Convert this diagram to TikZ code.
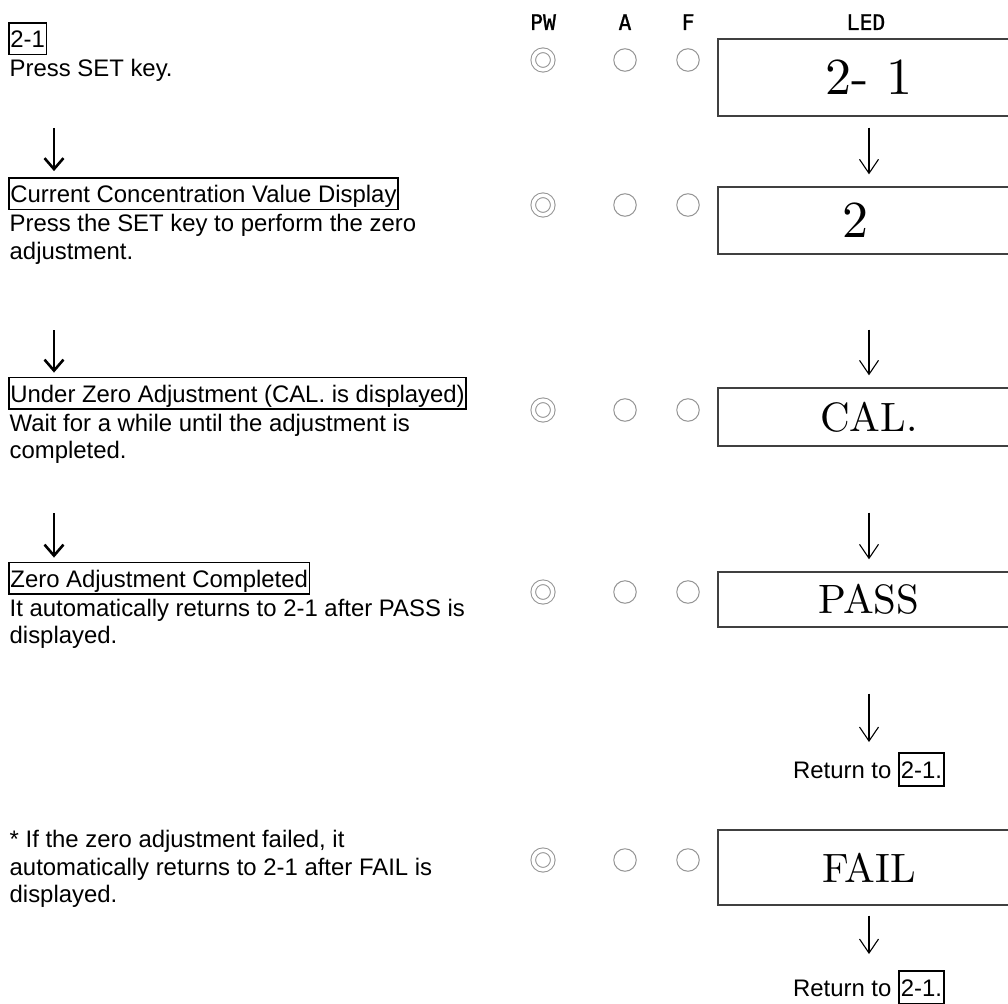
\documentclass[tikz,border=0pt]{standalone}
\usepackage{fontspec}
\newfontfamily\arialfont{Liberation Sans}
\newfontfamily\gothicfont[FakeBold=1]{DejaVu Sans Mono}
\newfontfamily\lcdfont{lmroman10-regular.otf}
\usetikzlibrary{arrows.meta,positioning}
\newcommand{\retbox}[1]{{\setlength{\fboxsep}{1pt}\setlength{\fboxrule}{1.8pt}\fbox{\rule[-6pt]{0pt}{29pt}#1}}}

\begin{document}
\begin{tikzpicture}[
    x=1pt, y=-1pt,
    font=\arialfont\fontsize{23.9}{27.5}\selectfont,
    title/.style={draw, line width=1.8pt, anchor=base west, inner xsep=1.5pt, inner ysep=1.5pt, text height=23pt, text depth=5.5pt},
    desc/.style={align=left, inner xsep=1.5pt, inner ysep=0pt},
    head/.style={font=\gothicfont\fontsize{21.5}{23}\selectfont, anchor=base},
    ledoff/.style={circle, draw=gray!85, line width=1pt, minimum size=22.5pt, inner sep=0pt},
    ledon/.style={circle, draw=gray!85, line width=1pt, double=white, double distance=3.6pt, minimum size=19.5pt, inner sep=0pt},
    lcd/.style={draw=black!75, line width=1.4pt, minimum width=302pt, inner sep=0pt, font=\lcdfont\fontsize{41}{45}\selectfont},
    lcdnum/.style={lcd, font=\lcdfont\fontsize{52}{56}\selectfont},
    steparr/.style={line width=2.6pt, -{Straight Barb[length=11pt, width=19pt]}},
    lcdarr/.style={line width=1.1pt, -{Straight Barb[length=14pt, width=19pt]}},
    ret/.style={anchor=base, inner sep=0pt}
]
\useasboundingbox (0,0) rectangle (1008,1003);
\clip (0,0) rectangle (1008,1003);

% Left column: steps
\node[title] (t1) at (8,47.5) {2-1};
\node[desc, below=4pt of t1.south west, anchor=north west] (d1) {Press SET key.};

\node[title] (t2) at (8,202.5) {Current Concentration Value Display};
\node[desc, below=4pt of t2.south west, anchor=north west] (d2) {Press the SET key to perform the zero\\adjustment.};

\node[title] (t3) at (8,402) {Under Zero Adjustment (CAL. is displayed)};
\node[desc, below=4pt of t3.south west, anchor=north west] (d3) {Wait for a while until the adjustment is\\completed.};

\node[title] (t4) at (8,587) {Zero Adjustment Completed};
\node[desc, below=4pt of t4.south west, anchor=north west] (d4) {It automatically returns to 2-1 after PASS is\\displayed.};

\node[desc, anchor=north west] (note) at (8,830) {* If the zero adjustment failed, it\\automatically returns to 2-1 after FAIL is\\displayed.};

% Left arrows
\coordinate (s1) at (54,128);
\coordinate (s2) at (54,330);
\coordinate (s3) at (54,513);
\draw[steparr, shorten >=6pt] (s1) -- (s1 |- t2.north);
\draw[steparr, shorten >=4pt] (s2) -- (s2 |- t3.north);
\draw[steparr, shorten >=4pt] (s3) -- (s3 |- t4.north);

% Headers
\node[head] (hpw) at (543,30) {PW};
\node[head] (ha) at (625,30) {A};
\node[head] (hf) at (688,30) {F};
\node[head] (hled) at (866,30) {LED};

% Lamps
\foreach \r/\y in {1/60, 2/205, 3/410, 4/592, 5/860} {
    \node[ledon] (pw\r) at (543,\y) {};
    \node[ledoff] (a\r) at (625,\y) {};
    \node[ledoff] (f\r) at (688,\y) {};
}

% LED display
\node[lcdnum, minimum height=77pt] (lcd1) at (869,77.5) {2- 1};
\node[lcdnum, minimum height=67pt] (lcd2) at (869,220.5) {\hspace*{-28pt}2};
\node[lcd, minimum height=58pt] (lcd3) at (869,417) {CAL.};
\node[lcd, minimum height=55pt] (lcd4) at (869,599.5) {PASS};
\node[lcd, minimum height=75pt] (lcd5) at (869,867.5) {FAIL};

\node[ret] (ret1) at (869,778) {Return to \retbox{2-1.}};
\node[ret] (ret2) at (869,996) {Return to \retbox{2-1.}};

% Right arrows
\draw[lcdarr, shorten <=11pt, shorten >=12pt] (lcd1.south) -- (lcd2.north);
\draw[lcdarr, shorten <=75pt, shorten >=12pt] (lcd2.south) -- (lcd3.north);
\draw[lcdarr, shorten <=66pt, shorten >=12pt] (lcd3.south) -- (lcd4.north);
\draw[lcdarr, shorten <=66pt, shorten >=10pt] (lcd4.south) -- (ret1.north);
\draw[lcdarr, shorten <=10pt, shorten >=16pt] (lcd5.south) -- (ret2.north);

\end{tikzpicture}
\end{document}
